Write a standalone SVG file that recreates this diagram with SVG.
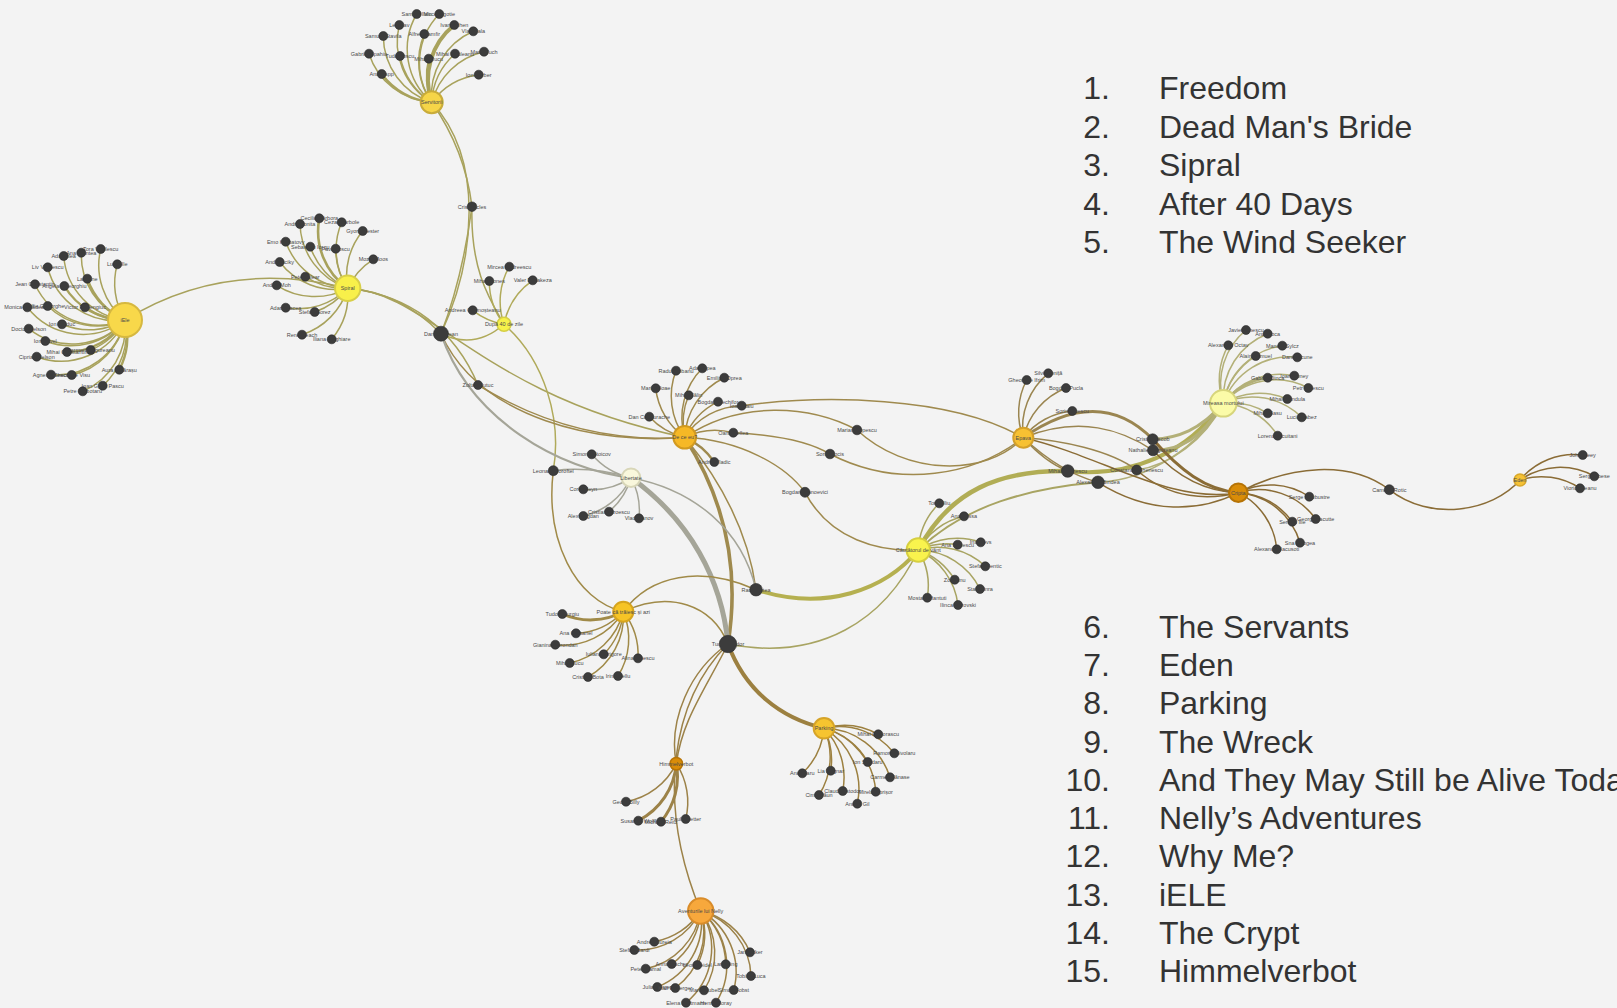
<svg xmlns="http://www.w3.org/2000/svg" width="1617" height="1008" viewBox="0 0 1617 1008">
<style>
.e{fill:none;stroke-linecap:round;stroke-width:1.5}
.ol{stroke:#a8a25c}.yl{stroke:#b0aa5a}.bm{stroke:#9f8a4e}.gr{stroke:#a5a598}.pd{stroke:#a08a48}
.pk{stroke:#9c8040}.nl{stroke:#9c8248}.ws{stroke:#a8a462}.mm{stroke:#b3b078}.ep{stroke:#9a8550}.cr{stroke:#8a6c36}
.t{fill:#4a4a4a;font-family:"Liberation Sans",Arial,sans-serif;font-size:5.5px;text-anchor:middle;dominant-baseline:central}
.lf{fill:#3c3c3c;stroke:#2c2c2c;stroke-width:.6}
.lg{fill:#333;font-family:"Liberation Sans",Arial,sans-serif;font-size:32px}
.num{text-anchor:end}
</style>
<rect width="1617" height="1008" fill="#f3f3f3"/>
<g id="connectors">
<g class="e ol">
<path d="M125,320A70,70 0 0 1 100.7,249"/><path d="M125,320A70,70 0 0 1 81.3,252.7"/><path d="M125,320A70,70 0 0 1 63.7,256"/>
<path d="M125,320A70,70 0 0 1 117.3,264.3"/><path d="M125,320A70,70 0 0 1 47.7,267.3"/><path d="M125,320A70,70 0 0 1 87.3,278.7" stroke-width="2.4"/>
<path d="M125,320A70,70 0 0 1 35,284.3"/><path d="M125,320A70,70 0 0 1 64.3,286" stroke-width="2.4"/><path d="M125,320A70,70 0 0 1 27.3,307.3"/>
<path d="M125,320A70,70 0 0 1 47.7,306"/><path d="M125,320A70,70 0 0 1 85,307.3" stroke-width="2.4"/><path d="M125,320A70,70 0 0 1 62,324.3"/>
<path d="M125,320A70,70 0 0 1 28.7,328.7"/><path d="M125,320A70,70 0 0 1 45.3,341"/><path d="M125,320A70,70 0 0 1 90.7,350"/>
<path d="M125,320A70,70 0 0 1 67,352" stroke-width="2.4"/><path d="M125,320A70,70 0 0 1 36.7,356.7"/><path d="M125,320A70,70 0 0 1 51,374.7"/>
<path d="M125,320A70,70 0 0 1 71.7,375"/><path d="M125,320A70,70 0 0 1 119.3,369.7" stroke-width="2.4"/><path d="M125,320A70,70 0 0 1 102.7,385.7"/>
<path d="M125,320A70,70 0 0 1 82.7,391.3"/>
<path d="M125,320Q225,258 347.7,288.3"/>
</g>
<g class="e ol">
<path d="M347.7,288.3A70,70 0 0 1 300,224"/><path d="M347.7,288.3A70,70 0 0 1 319.3,218.3" stroke-width="2.6"/><path d="M347.7,288.3A70,70 0 0 1 341.7,222.3"/>
<path d="M347.7,288.3A70,70 0 0 1 362.7,231"/><path d="M347.7,288.3A70,70 0 0 1 285.7,241.7"/><path d="M347.7,288.3A70,70 0 0 1 310.3,246.7"/>
<path d="M347.7,288.3A70,70 0 0 1 335.7,248.7"/><path d="M347.7,288.3A70,70 0 0 1 373.3,259.3"/><path d="M347.7,288.3A70,70 0 0 1 279.7,262"/>
<path d="M347.7,288.3A70,70 0 0 1 305.3,276.7"/><path d="M347.7,288.3A70,70 0 0 1 276.7,285.3"/><path d="M347.7,288.3A70,70 0 0 1 285.7,307.7"/>
<path d="M347.7,288.3A70,70 0 0 1 314.7,312"/><path d="M347.7,288.3A70,70 0 0 1 302,334.7"/><path d="M347.7,288.3A70,70 0 0 1 331.7,339.3"/>
<path d="M347.7,288.3Q400,292 441,333.7"/><path d="M347.7,288.3C410,295 455,330 478,385"/><path d="M347.7,288.3C430,292 480,395 684.7,437.3"/>
</g>
<g class="e ol">
<path d="M431.7,102.3A70,70 0 0 1 416.7,14"/><path d="M431.7,102.3A70,70 0 0 1 439.3,14"/><path d="M431.7,102.3A70,70 0 0 1 399.3,25"/>
<path d="M431.7,102.3A70,70 0 0 1 454.3,25" stroke-width="4"/><path d="M431.7,102.3A70,70 0 0 1 473.3,31.3"/><path d="M431.7,102.3A70,70 0 0 1 383.3,36"/>
<path d="M431.7,102.3A70,70 0 0 1 424.3,34"/><path d="M431.7,102.3A70,70 0 0 1 369,53.7"/><path d="M431.7,102.3A70,70 0 0 1 400,56"/>
<path d="M431.7,102.3A70,70 0 0 1 428.7,58.7"/><path d="M431.7,102.3A70,70 0 0 1 455,53.7"/><path d="M431.7,102.3A70,70 0 0 1 484,51.7"/>
<path d="M431.7,102.3A70,70 0 0 1 381.7,74" stroke-width="2.4"/><path d="M431.7,102.3A70,70 0 0 1 478.7,74.7"/>
<path d="M431.7,102.3Q465,150 472,206.7"/><path d="M431.7,102.3C485,160 475,260 441,333.7"/>
<path d="M472,206.7Q462,280 441,333.7"/><path d="M472,206.7C470,270 490,300 504,324.3"/>
</g>
<g class="e yl">
<path d="M504,324.3A70,70 0 0 1 509.3,266.7"/><path d="M504,324.3A70,70 0 0 1 489.3,281"/><path d="M504,324.3A70,70 0 0 1 532.7,280.3"/>
<path d="M504,324.3A70,70 0 0 1 472.7,310.3"/>
<path d="M441,333.7Q475,350 504,324.3"/>
<path d="M504,324.3C545,360 562,420 553.3,470.7"/>
</g>
<g class="e bm">
<path d="M684.7,437.3A70,70 0 0 1 676,370.7"/><path d="M684.7,437.3A70,70 0 0 1 702.3,368.3"/><path d="M684.7,437.3A70,70 0 0 1 724.3,377.7"/>
<path d="M684.7,437.3A70,70 0 0 1 655.7,388.3"/><path d="M684.7,437.3A70,70 0 0 1 688.7,395.3"/><path d="M684.7,437.3A70,70 0 0 1 718,401.7"/>
<path d="M684.7,437.3A70,70 0 0 1 741.7,405.7"/><path d="M684.7,437.3A70,70 0 0 1 649.3,416.7"/><path d="M684.7,437.3A70,70 0 0 1 733.3,432.7"/>
<path d="M684.7,437.3A70,70 0 0 1 714.3,462" stroke-width="2.4"/>
<path d="M478,385Q575,445 684.7,437.3"/>
<path d="M441,333.7C480,420 600,445 684.7,437.3"/>
<path d="M684.7,437.3C725,500 740,570 728,644" stroke-width="3.6"/>
<path d="M684.7,437.3C720,480 748,530 756,589.7"/>
<path d="M684.7,437.3C740,440 785,465 805,492.3"/>
<path d="M733.3,432.7C780,435 810,442 830,454"/>
<path d="M684.7,437.3C740,400 810,405 857,430"/>
<path d="M741.7,405.7C820,395 950,395 1023.3,437.7"/>
<path d="M830,454C900,490 975,475 1023.3,437.7"/>
<path d="M857,430C905,475 985,478 1023.3,437.7"/>
<path d="M805,492.3C830,540 880,552 918.3,550"/>
</g>
<g class="e gr">
<path d="M631,477.7A70,70 0 0 1 591.7,454.3"/><path d="M631,477.7A70,70 0 0 1 583.3,489.3"/><path d="M631,477.7A70,70 0 0 1 609,511.7"/>
<path d="M631,477.7A70,70 0 0 1 583.3,516"/><path d="M631,477.7A70,70 0 0 1 639,518.3"/>
<path d="M441,333.7C470,420 560,470 631,477.7" stroke-width="2.2"/>
<path d="M553.3,470.7Q590,466 631,477.7"/>
<path d="M631,477.7C690,520 722,580 728,644" stroke-width="5"/>
<path d="M631,477.7C695,490 742,530 756,589.7"/>
</g>
<g class="e pd">
<path d="M623.3,611.7A70,70 0 0 1 562.3,614" stroke-width="3"/><path d="M623.3,611.7A70,70 0 0 1 576,633.3"/><path d="M623.3,611.7A70,70 0 0 1 555.3,644.7"/>
<path d="M623.3,611.7A70,70 0 0 1 603.7,654.3"/><path d="M623.3,611.7A70,70 0 0 1 638,658.3"/><path d="M623.3,611.7A70,70 0 0 1 569.7,663"/>
<path d="M623.3,611.7A70,70 0 0 1 588,677"/><path d="M623.3,611.7A70,70 0 0 1 618,676"/>
<path d="M553.3,470.7C545,540 575,600 623.3,611.7"/>
<path d="M756,589.7C700,565 650,575 623.3,611.7"/>
<path d="M623.3,611.7C670,590 712,605 728,644"/>
</g>
<g class="e ws">
<path d="M918.3,550A70,70 0 0 1 939.3,503.3"/><path d="M918.3,550A70,70 0 0 1 964,516.3"/><path d="M918.3,550A70,70 0 0 1 957.7,544.7"/>
<path d="M918.3,550A70,70 0 0 1 980.7,542.3"/><path d="M918.3,550A70,70 0 0 1 985.3,566.3"/><path d="M918.3,550A70,70 0 0 1 954.7,579.7"/>
<path d="M918.3,550A70,70 0 0 1 980,589"/><path d="M918.3,550A70,70 0 0 1 927.3,597.7"/><path d="M918.3,550A70,70 0 0 1 958,605"/>
<path d="M756,589.7C825,612 885,590 918.3,550" stroke-width="4" stroke="#b5b050"/>
<path d="M728,644C820,662 885,620 918.3,550"/>
<path d="M918.3,550C950,490 1000,470 1067.7,471" stroke-width="4.5" stroke="#b1ad55"/>
<path d="M1067.7,471C1130,478 1190,452 1221,403.7" stroke-width="4" stroke="#b1ad55"/>
<path d="M918.3,550C965,505 1030,488 1098,482.3" stroke-width="2"/>
</g>
<g class="e mm">
<path d="M1223.3,403.3A70,70 0 0 1 1246,330"/><path d="M1223.3,403.3A70,70 0 0 1 1267.7,333.7"/><path d="M1223.3,403.3A70,70 0 0 1 1228.3,345.3"/>
<path d="M1223.3,403.3A70,70 0 0 1 1282.3,345.7"/><path d="M1223.3,403.3A70,70 0 0 1 1255.7,356"/><path d="M1223.3,403.3A70,70 0 0 1 1297.3,357.3"/>
<path d="M1223.3,403.3A70,70 0 0 1 1267.7,377.7" stroke-width="2.6"/><path d="M1223.3,403.3A70,70 0 0 1 1294.3,375.7"/><path d="M1223.3,403.3A70,70 0 0 1 1308.3,388"/>
<path d="M1223.3,403.3A70,70 0 0 1 1287.3,399"/><path d="M1223.3,403.3A70,70 0 0 1 1267.7,413.3"/><path d="M1223.3,403.3A70,70 0 0 1 1301.7,417.3"/>
<path d="M1223.3,403.3A70,70 0 0 1 1277.7,435.7"/>
<path d="M1223.3,403.3C1200,430 1178,438 1152.7,439.3" stroke-width="3"/>
<path d="M1223.3,403.3C1200,440 1180,450 1153,450.3" stroke-width="3"/>
<path d="M1098,482.3C1150,480 1200,445 1223.3,403.3"/>
<path d="M1136.7,470C1170,465 1205,440 1223.3,403.3"/>
</g>
<g class="e ep">
<path d="M1023.3,437.7A70,70 0 0 1 1048.3,373.3"/><path d="M1023.3,437.7A70,70 0 0 1 1026.7,380"/><path d="M1023.3,437.7A70,70 0 0 1 1066,388"/>
<path d="M1023.3,437.7A70,70 0 0 1 1072.3,411"/>
<path d="M1023.3,437.7C1080,398 1122,408 1152.7,439.3" stroke-width="3"/>
<path d="M1023.3,437.7C1080,415 1122,430 1153,450.3"/>
<path d="M1023.3,437.7Q1045,462 1067.7,471"/>
<path d="M1023.3,437.7Q1060,472 1098,482.3"/>
<path d="M1023.3,437.7C1060,440 1110,450 1136.7,470"/>
</g>
<g class="e cr">
<path d="M1238.3,492.7A70,70 0 0 1 1309.3,496.7"/><path d="M1238.3,492.7A70,70 0 0 1 1315.7,519"/><path d="M1238.3,492.7A70,70 0 0 1 1292.3,521.7"/>
<path d="M1238.3,492.7A70,70 0 0 1 1300,542.7"/><path d="M1238.3,492.7A70,70 0 0 1 1276.7,549.3"/>
<path d="M1152.7,439.3C1180,470 1205,490 1238.3,492.7" stroke-width="3"/>
<path d="M1153,450.3C1180,480 1210,492 1238.3,492.7"/>
<path d="M1136.7,470C1170,500 1210,500 1238.3,492.7"/>
<path d="M1098,482.3C1150,515 1200,512 1238.3,492.7"/>
<path d="M1023.3,437.7C1100,455 1170,505 1238.3,492.7"/>
<path d="M1238.3,492.7C1290,465 1350,460 1389.3,489.7"/>
<path d="M1389.3,489.7C1430,522 1492,512 1520,480"/>
<path d="M1520,480A70,70 0 0 1 1582.7,455"/><path d="M1520,480A70,70 0 0 1 1594.3,476.3"/><path d="M1520,480A70,70 0 0 1 1580,488.3"/>
</g>
<g class="e pk">
<path d="M824,728.3A70,70 0 0 1 878.3,734.3"/><path d="M824,728.3A70,70 0 0 1 894.3,753.3"/><path d="M824,728.3A70,70 0 0 1 802.3,773.3"/>
<path d="M824,728.3A70,70 0 0 1 830.7,770.7"/><path d="M824,728.3A70,70 0 0 1 867.7,762"/><path d="M824,728.3A70,70 0 0 1 890,777.3"/>
<path d="M824,728.3A70,70 0 0 1 842.7,791"/><path d="M824,728.3A70,70 0 0 1 875.7,791.7"/><path d="M824,728.3A70,70 0 0 1 819,795"/>
<path d="M824,728.3A70,70 0 0 1 857.3,803.7"/>
<path d="M728,644C745,690 780,718 824,728.3" stroke-width="4"/>
</g>
<g class="e nl">
<path d="M676.3,763.7A70,70 0 0 1 626,801.7"/><path d="M676.3,763.7A70,70 0 0 1 638.3,820.7" stroke-width="3"/><path d="M676.3,763.7A70,70 0 0 1 661,821.7" stroke-width="3"/>
<path d="M676.3,763.7A70,70 0 0 1 685.7,819"/>
<path d="M728,644C705,690 682,720 676.3,763.7"/>
<path d="M728,644C690,670 668,720 676.3,763.7"/>
<path d="M728,644C672,700 655,800 700.7,911"/>
<path d="M700.7,911A70,70 0 0 1 654.3,941.7"/><path d="M700.7,911A70,70 0 0 1 634.3,950"/><path d="M700.7,911A70,70 0 0 1 750,952.3"/>
<path d="M700.7,911A70,70 0 0 1 645.7,968.7"/><path d="M700.7,911A70,70 0 0 1 671.7,964"/><path d="M700.7,911A70,70 0 0 1 697.3,965"/>
<path d="M700.7,911A70,70 0 0 1 725.7,964.3"/><path d="M700.7,911A70,70 0 0 1 751,976"/><path d="M700.7,911A70,70 0 0 1 657.3,987"/>
<path d="M700.7,911A70,70 0 0 1 675.3,988"/><path d="M700.7,911A70,70 0 0 1 704,990.3"/><path d="M700.7,911A70,70 0 0 1 733.7,990"/>
<path d="M700.7,911A70,70 0 0 1 686,1002.7"/><path d="M700.7,911A70,70 0 0 1 716,1002.7"/>
</g>
</g>
<g id="nodes">
<g id="leaves">
<g id="n-iele-leaves">
<text class="t" x="100.7" y="249">Tora Vasilescu</text><circle class="lf" cx="100.7" cy="249" r="4.5"/>
<text class="t" x="81.3" y="252.7">Ana Ciontea</text><circle class="lf" cx="81.3" cy="252.7" r="4.5"/>
<text class="t" x="63.7" y="256">Ada Milea</text><circle class="lf" cx="63.7" cy="256" r="4.5"/>
<text class="t" x="117.3" y="264.3">Lucia Ile</text><circle class="lf" cx="117.3" cy="264.3" r="4.5"/>
<text class="t" x="47.7" y="267.3">Liv Vasilescu</text><circle class="lf" cx="47.7" cy="267.3" r="4.5"/>
<text class="t" x="87.3" y="278.7">Lari Ene</text><circle class="lf" cx="87.3" cy="278.7" r="4.5"/>
<text class="t" x="35" y="284.3">Jean Constantin</text><circle class="lf" cx="35" cy="284.3" r="4.5"/>
<text class="t" x="64.3" y="286">Angela Gheorghiu</text><circle class="lf" cx="64.3" cy="286" r="4.5"/>
<text class="t" x="27.3" y="307.3">Monica Bîrlădeanu</text><circle class="lf" cx="27.3" cy="307.3" r="4.5"/>
<text class="t" x="47.7" y="306">Ilie Gheorghe</text><circle class="lf" cx="47.7" cy="306" r="4.5"/>
<text class="t" x="85" y="307.3">Victor Rebengiuc</text><circle class="lf" cx="85" cy="307.3" r="4.5"/>
<text class="t" x="62" y="324.3">Ion Haiduc</text><circle class="lf" cx="62" cy="324.3" r="4.5"/>
<text class="t" x="28.7" y="328.7">Doctor Nelson</text><circle class="lf" cx="28.7" cy="328.7" r="4.5"/>
<text class="t" x="45.3" y="341">Ion Pavel</text><circle class="lf" cx="45.3" cy="341" r="4.5"/>
<text class="t" x="90.7" y="350">Carmen Ungureanu</text><circle class="lf" cx="90.7" cy="350" r="4.5"/>
<text class="t" x="67" y="352">Mihai Constantin</text><circle class="lf" cx="67" cy="352" r="4.5"/>
<text class="t" x="36.7" y="356.7">Ciprian Nelson</text><circle class="lf" cx="36.7" cy="356.7" r="4.5"/>
<text class="t" x="51" y="374.7">Agnes Ionescu</text><circle class="lf" cx="51" cy="374.7" r="4.5"/>
<text class="t" x="71.7" y="375">Gheorghe Visu</text><circle class="lf" cx="71.7" cy="375" r="4.5"/>
<text class="t" x="119.3" y="369.7">Aura Călărașu</text><circle class="lf" cx="119.3" cy="369.7" r="4.5"/>
<text class="t" x="102.7" y="385.7">Ioan Gyuri Pascu</text><circle class="lf" cx="102.7" cy="385.7" r="4.5"/>
<text class="t" x="82.7" y="391.3">Petre Ciubotaru</text><circle class="lf" cx="82.7" cy="391.3" r="4.5"/>
</g>
<g id="n-spiral-leaves">
<text class="t" x="300" y="224">Andrei Ionita</text><circle class="lf" cx="300" cy="224" r="4.5"/>
<text class="t" x="319.3" y="218.3">Cecilia Bârbora</text><circle class="lf" cx="319.3" cy="218.3" r="4.5"/>
<text class="t" x="341.7" y="222.3">Cezar Barbole</text><circle class="lf" cx="341.7" cy="222.3" r="4.5"/>
<text class="t" x="362.7" y="231">Gyorgy Iester</text><circle class="lf" cx="362.7" cy="231" r="4.5"/>
<text class="t" x="285.7" y="241.7">Emo Korbatovy</text><circle class="lf" cx="285.7" cy="241.7" r="4.5"/>
<text class="t" x="310.3" y="246.7">Sebastian Iorgu</text><circle class="lf" cx="310.3" cy="246.7" r="4.5"/>
<text class="t" x="335.7" y="248.7">Pavel Ioscu</text><circle class="lf" cx="335.7" cy="248.7" r="4.5"/>
<text class="t" x="373.3" y="259.3">Mozzi Moos</text><circle class="lf" cx="373.3" cy="259.3" r="4.5"/>
<text class="t" x="279.7" y="262">Andi Baciky</text><circle class="lf" cx="279.7" cy="262" r="4.5"/>
<text class="t" x="305.3" y="276.7">Pete Palear</text><circle class="lf" cx="305.3" cy="276.7" r="4.5"/>
<text class="t" x="276.7" y="285.3">Andrei Moh</text><circle class="lf" cx="276.7" cy="285.3" r="4.5"/>
<text class="t" x="285.7" y="307.7">Adam Pacea</text><circle class="lf" cx="285.7" cy="307.7" r="4.5"/>
<text class="t" x="314.7" y="312">Stefan Sorez</text><circle class="lf" cx="314.7" cy="312" r="4.5"/>
<text class="t" x="302" y="334.7">Rene Neach</text><circle class="lf" cx="302" cy="334.7" r="4.5"/>
<text class="t" x="331.7" y="339.3">Iliana Maghiare</text><circle class="lf" cx="331.7" cy="339.3" r="4.5"/>
</g>
<g id="n-servants-leaves">
<text class="t" x="416.7" y="14">Samuel Ilaiu</text><circle class="lf" cx="416.7" cy="14" r="4.5"/>
<text class="t" x="439.3" y="14">Mircea Igotie</text><circle class="lf" cx="439.3" cy="14" r="4.5"/>
<text class="t" x="399.3" y="25">Leo Sav</text><circle class="lf" cx="399.3" cy="25" r="4.5"/>
<text class="t" x="454.3" y="25">Ivan Cohen</text><circle class="lf" cx="454.3" cy="25" r="4.5"/>
<text class="t" x="473.3" y="31.3">Vlad Pala</text><circle class="lf" cx="473.3" cy="31.3" r="4.5"/>
<text class="t" x="383.3" y="36">Samuel Stavila</text><circle class="lf" cx="383.3" cy="36" r="4.5"/>
<text class="t" x="424.3" y="34">Alfred Zamfir</text><circle class="lf" cx="424.3" cy="34" r="4.5"/>
<text class="t" x="369" y="53.7">Gabriel Spahiu</text><circle class="lf" cx="369" cy="53.7" r="4.5"/>
<text class="t" x="400" y="56">Tudor Ioscu</text><circle class="lf" cx="400" cy="56" r="4.5"/>
<text class="t" x="428.7" y="58.7">Mihail Rucu</text><circle class="lf" cx="428.7" cy="58.7" r="4.5"/>
<text class="t" x="455" y="53.7">Mihai Pauleanu</text><circle class="lf" cx="455" cy="53.7" r="4.5"/>
<text class="t" x="484" y="51.7">Marin Tuch</text><circle class="lf" cx="484" cy="51.7" r="4.5"/>
<text class="t" x="381.7" y="74">Ana Papp</text><circle class="lf" cx="381.7" cy="74" r="4.5"/>
<text class="t" x="478.7" y="74.7">Ion Sarber</text><circle class="lf" cx="478.7" cy="74.7" r="4.5"/>
</g>
<g id="n-40-leaves">
<text class="t" x="509.3" y="266.7">Mircea Andreescu</text><circle class="lf" cx="509.3" cy="266.7" r="4.5"/>
<text class="t" x="489.3" y="281">Mihai Mones</text><circle class="lf" cx="489.3" cy="281" r="4.5"/>
<text class="t" x="532.7" y="280.3">Valer Dellakeza</text><circle class="lf" cx="532.7" cy="280.3" r="4.5"/>
<text class="t" x="472.7" y="310.3">Andreea Grămoșteanu</text><circle class="lf" cx="472.7" cy="310.3" r="4.5"/>
</g>
<g id="n-shared">
<text class="t" x="472" y="206.7">Cristi Iacles</text><circle class="lf" cx="472" cy="206.7" r="4.8"/>
<text class="t" x="441" y="333.7">Dan Chiorean</text><circle class="lf" cx="441" cy="333.7" r="7.5"/>
<text class="t" x="478" y="385">Zoltan Butuc</text><circle class="lf" cx="478" cy="385" r="4.5"/>
<text class="t" x="553.3" y="470.7">Leonard Doroftei</text><circle class="lf" cx="553.3" cy="470.7" r="5"/>
<text class="t" x="756" y="589.7">Radu Botea</text><circle class="lf" cx="756" cy="589.7" r="6.3"/>
<text class="t" x="728" y="644">Tudor Istodor</text><circle class="lf" cx="728" cy="644" r="8.7"/>
<text class="t" x="830" y="454">Sorin Cocis</text><circle class="lf" cx="830" cy="454" r="4.8"/>
<text class="t" x="857" y="430">Marian Popescu</text><circle class="lf" cx="857" cy="430" r="4.8"/>
<text class="t" x="805" y="492.3">Bogdan Stanoevici</text><circle class="lf" cx="805" cy="492.3" r="5"/>
<text class="t" x="1067.7" y="471">Mihai Călinescu</text><circle class="lf" cx="1067.7" cy="471" r="6.3"/>
<text class="t" x="1098" y="482.3">Alexandru Bindea</text><circle class="lf" cx="1098" cy="482.3" r="6.3"/>
<text class="t" x="1152.7" y="439.3">Cristian Iacob</text><circle class="lf" cx="1152.7" cy="439.3" r="5.5"/>
<text class="t" x="1153" y="450.3">Nathalie Ungureanu</text><circle class="lf" cx="1153" cy="450.3" r="5.5"/>
<text class="t" x="1136.7" y="470">Constantin Ghenescu</text><circle class="lf" cx="1136.7" cy="470" r="5"/>
<text class="t" x="1389.3" y="489.7">Camelia Rotic</text><circle class="lf" cx="1389.3" cy="489.7" r="5"/>
</g>
<g id="n-dece-leaves">
<text class="t" x="676" y="370.7">Radu Ciobanu</text><circle class="lf" cx="676" cy="370.7" r="4.5"/>
<text class="t" x="702.3" y="368.3">Ada Lupea</text><circle class="lf" cx="702.3" cy="368.3" r="4.5"/>
<text class="t" x="724.3" y="377.7">Emilian Oprea</text><circle class="lf" cx="724.3" cy="377.7" r="4.5"/>
<text class="t" x="655.7" y="388.3">Maria Ploae</text><circle class="lf" cx="655.7" cy="388.3" r="4.5"/>
<text class="t" x="688.7" y="395.3">Mihai Călin</text><circle class="lf" cx="688.7" cy="395.3" r="4.5"/>
<text class="t" x="718" y="401.7">Bogdan Nechifor</text><circle class="lf" cx="718" cy="401.7" r="4.5"/>
<text class="t" x="741.7" y="405.7">Ioan Isaiu</text><circle class="lf" cx="741.7" cy="405.7" r="4.5"/>
<text class="t" x="649.3" y="416.7">Dan Condurache</text><circle class="lf" cx="649.3" cy="416.7" r="4.5"/>
<text class="t" x="733.3" y="432.7">Oana Pellea</text><circle class="lf" cx="733.3" cy="432.7" r="4.5"/>
<text class="t" x="714.3" y="462">Andrei Vladic</text><circle class="lf" cx="714.3" cy="462" r="4.5"/>
</g>
<g id="n-lib-leaves">
<text class="t" x="591.7" y="454.3">Simona Stoicov</text><circle class="lf" cx="591.7" cy="454.3" r="4.5"/>
<text class="t" x="583.3" y="489.3">Corin Heyn</text><circle class="lf" cx="583.3" cy="489.3" r="4.5"/>
<text class="t" x="609" y="511.7">Cristian Stroescu</text><circle class="lf" cx="609" cy="511.7" r="4.5"/>
<text class="t" x="583.3" y="516">Alex Bogdan</text><circle class="lf" cx="583.3" cy="516" r="4.5"/>
<text class="t" x="639" y="518.3">Vlad Ivanov</text><circle class="lf" cx="639" cy="518.3" r="4.5"/>
</g>
<g id="n-pod-leaves">
<text class="t" x="562.3" y="614">Tudor Giurgiu</text><circle class="lf" cx="562.3" cy="614" r="4.5"/>
<text class="t" x="576" y="633.3">Ana Ciobanel</text><circle class="lf" cx="576" cy="633.3" r="4.5"/>
<text class="t" x="555.3" y="644.7">Gianina Corondan</text><circle class="lf" cx="555.3" cy="644.7" r="4.5"/>
<text class="t" x="603.7" y="654.3">Iuliana Grigore</text><circle class="lf" cx="603.7" cy="654.3" r="4.5"/>
<text class="t" x="638" y="658.3">Alina Ionescu</text><circle class="lf" cx="638" cy="658.3" r="4.5"/>
<text class="t" x="569.7" y="663">Mihai Cucu</text><circle class="lf" cx="569.7" cy="663" r="4.5"/>
<text class="t" x="588" y="677">Cristian Bota</text><circle class="lf" cx="588" cy="677" r="4.5"/>
<text class="t" x="618" y="676">Irina Bellu</text><circle class="lf" cx="618" cy="676" r="4.5"/>
</g>
<g id="n-park-leaves">
<text class="t" x="878.3" y="734.3">Mihai Gheorascu</text><circle class="lf" cx="878.3" cy="734.3" r="4.5"/>
<text class="t" x="894.3" y="753.3">Ramona Bivolaru</text><circle class="lf" cx="894.3" cy="753.3" r="4.5"/>
<text class="t" x="802.3" y="773.3">Ana Ularu</text><circle class="lf" cx="802.3" cy="773.3" r="4.5"/>
<text class="t" x="830.7" y="770.7">Lia Bugnar</text><circle class="lf" cx="830.7" cy="770.7" r="4.5"/>
<text class="t" x="867.7" y="762">Ion Sapdaru</text><circle class="lf" cx="867.7" cy="762" r="4.5"/>
<text class="t" x="890" y="777.3">Carmen Tănase</text><circle class="lf" cx="890" cy="777.3" r="4.5"/>
<text class="t" x="842.7" y="791">Claudiu Istodor</text><circle class="lf" cx="842.7" cy="791" r="4.5"/>
<text class="t" x="875.7" y="791.7">Mirela Oprișor</text><circle class="lf" cx="875.7" cy="791.7" r="4.5"/>
<text class="t" x="819" y="795">Cima Păun</text><circle class="lf" cx="819" cy="795" r="4.5"/>
<text class="t" x="857.3" y="803.7">Andrei Gil</text><circle class="lf" cx="857.3" cy="803.7" r="4.5"/>
</g>
<g id="n-him-leaves">
<text class="t" x="626" y="801.7">Georg Billy</text><circle class="lf" cx="626" cy="801.7" r="4.5"/>
<text class="t" x="638.3" y="820.7">Susanne Wolff</text><circle class="lf" cx="638.3" cy="820.7" r="4.5"/>
<text class="t" x="661" y="821.7">Michael Reitz</text><circle class="lf" cx="661" cy="821.7" r="4.5"/>
<text class="t" x="685.7" y="819">Paul Zwetter</text><circle class="lf" cx="685.7" cy="819" r="4.5"/>
</g>
<g id="n-nelly-leaves">
<text class="t" x="654.3" y="941.7">Andrei Ciureia</text><circle class="lf" cx="654.3" cy="941.7" r="4.5"/>
<text class="t" x="634.3" y="950">Stefan Bardi</text><circle class="lf" cx="634.3" cy="950" r="4.5"/>
<text class="t" x="750" y="952.3">Jana Icker</text><circle class="lf" cx="750" cy="952.3" r="4.5"/>
<text class="t" x="645.7" y="968.7">Peter Hamal</text><circle class="lf" cx="645.7" cy="968.7" r="4.5"/>
<text class="t" x="671.7" y="964">Anna Fischer</text><circle class="lf" cx="671.7" cy="964" r="4.5"/>
<text class="t" x="697.3" y="965">Leon Seidel</text><circle class="lf" cx="697.3" cy="965" r="4.5"/>
<text class="t" x="725.7" y="964.3">Lars Ring</text><circle class="lf" cx="725.7" cy="964.3" r="4.5"/>
<text class="t" x="751" y="976">Tobias Luca</text><circle class="lf" cx="751" cy="976" r="4.5"/>
<text class="t" x="657.3" y="987">Julia Berger</text><circle class="lf" cx="657.3" cy="987" r="4.5"/>
<text class="t" x="675.3" y="988">Karl Enberger</text><circle class="lf" cx="675.3" cy="988" r="4.5"/>
<text class="t" x="704" y="990.3">Maria Kubel</text><circle class="lf" cx="704" cy="990.3" r="4.5"/>
<text class="t" x="733.7" y="990">Simon Fobst</text><circle class="lf" cx="733.7" cy="990" r="4.5"/>
<text class="t" x="686" y="1002.7">Elena Hartmann</text><circle class="lf" cx="686" cy="1002.7" r="4.5"/>
<text class="t" x="716" y="1002.7">Henry Moray</text><circle class="lf" cx="716" cy="1002.7" r="4.5"/>
</g>
<g id="n-epava-leaves">
<text class="t" x="1048.3" y="373.3">Silvia Ioniță</text><circle class="lf" cx="1048.3" cy="373.3" r="4.5"/>
<text class="t" x="1026.7" y="380">Gheorghe Ifrim</text><circle class="lf" cx="1026.7" cy="380" r="4.5"/>
<text class="t" x="1066" y="388">Bogdan Pucla</text><circle class="lf" cx="1066" cy="388" r="4.5"/>
<text class="t" x="1072.3" y="411">Sorin Ionescu</text><circle class="lf" cx="1072.3" cy="411" r="4.5"/>
</g>
<g id="n-mm-leaves">
<text class="t" x="1246" y="330">Javier Ionescu</text><circle class="lf" cx="1246" cy="330" r="4.5"/>
<text class="t" x="1267.7" y="333.7">Ana Idoca</text><circle class="lf" cx="1267.7" cy="333.7" r="4.5"/>
<text class="t" x="1228.3" y="345.3">Alexandru Octav</text><circle class="lf" cx="1228.3" cy="345.3" r="4.5"/>
<text class="t" x="1282.3" y="345.7">Manuel Sylcz</text><circle class="lf" cx="1282.3" cy="345.7" r="4.5"/>
<text class="t" x="1255.7" y="356">Alain Samuel</text><circle class="lf" cx="1255.7" cy="356" r="4.5"/>
<text class="t" x="1297.3" y="357.3">Daniel Icune</text><circle class="lf" cx="1297.3" cy="357.3" r="4.5"/>
<text class="t" x="1267.7" y="377.7">Gabriel Dinca</text><circle class="lf" cx="1267.7" cy="377.7" r="4.5"/>
<text class="t" x="1294.3" y="375.7">Ioan Honey</text><circle class="lf" cx="1294.3" cy="375.7" r="4.5"/>
<text class="t" x="1308.3" y="388">Petr Ionescu</text><circle class="lf" cx="1308.3" cy="388" r="4.5"/>
<text class="t" x="1287.3" y="399">Mihai Mandula</text><circle class="lf" cx="1287.3" cy="399" r="4.5"/>
<text class="t" x="1267.7" y="413.3">Mihail Basu</text><circle class="lf" cx="1267.7" cy="413.3" r="4.5"/>
<text class="t" x="1301.7" y="417.3">Lucia Irabez</text><circle class="lf" cx="1301.7" cy="417.3" r="4.5"/>
<text class="t" x="1277.7" y="435.7">Lorena Nicuitani</text><circle class="lf" cx="1277.7" cy="435.7" r="4.5"/>
</g>
<g id="n-crypt-leaves">
<text class="t" x="1309.3" y="496.7">Serge Soubustre</text><circle class="lf" cx="1309.3" cy="496.7" r="4.5"/>
<text class="t" x="1315.7" y="519">Georgi Gacutte</text><circle class="lf" cx="1315.7" cy="519" r="4.5"/>
<text class="t" x="1292.3" y="521.7">Serban Ilie</text><circle class="lf" cx="1292.3" cy="521.7" r="4.5"/>
<text class="t" x="1300" y="542.7">Sna Boogea</text><circle class="lf" cx="1300" cy="542.7" r="4.5"/>
<text class="t" x="1276.7" y="549.3">Alexandru Iacusoti</text><circle class="lf" cx="1276.7" cy="549.3" r="4.5"/>
</g>
<g id="n-eden-leaves">
<text class="t" x="1582.7" y="455">John Ceey</text><circle class="lf" cx="1582.7" cy="455" r="4.5"/>
<text class="t" x="1594.3" y="476.3">Sergiu Ibese</text><circle class="lf" cx="1594.3" cy="476.3" r="4.5"/>
<text class="t" x="1580" y="488.3">Viorica Ileanu</text><circle class="lf" cx="1580" cy="488.3" r="4.5"/>
</g>
<g id="n-ws-leaves">
<text class="t" x="939.3" y="503.3">Toma Iliu</text><circle class="lf" cx="939.3" cy="503.3" r="4.5"/>
<text class="t" x="964" y="516.3">Ana Vessa</text><circle class="lf" cx="964" cy="516.3" r="4.5"/>
<text class="t" x="957.7" y="544.7">Ana Popescu</text><circle class="lf" cx="957.7" cy="544.7" r="4.5"/>
<text class="t" x="980.7" y="542.3">Ina Iljevs</text><circle class="lf" cx="980.7" cy="542.3" r="4.5"/>
<text class="t" x="985.3" y="566.3">Stefan Pentic</text><circle class="lf" cx="985.3" cy="566.3" r="4.5"/>
<text class="t" x="954.7" y="579.7">Zoe Ianu</text><circle class="lf" cx="954.7" cy="579.7" r="4.5"/>
<text class="t" x="980" y="589">Stan Pinra</text><circle class="lf" cx="980" cy="589" r="4.5"/>
<text class="t" x="927.3" y="597.7">Mostafa Hantuti</text><circle class="lf" cx="927.3" cy="597.7" r="4.5"/>
<text class="t" x="958" y="605">Ilinca Narovski</text><circle class="lf" cx="958" cy="605" r="4.5"/>
</g>
</g>
<g id="hubs">
<g id="h-iele"><circle cx="125" cy="320" r="17" fill="#f8d84a" stroke="#d6b840" stroke-width="2"/><text class="t" x="125" y="320">iEle</text></g>
<g id="h-spiral"><circle cx="347.7" cy="288.3" r="12.7" fill="#f8f04a" stroke="#d8cf48" stroke-width="2"/><text class="t" x="347.7" y="288.3">Spiral</text></g>
<g id="h-servants"><circle cx="431.7" cy="102.3" r="11" fill="#f6d548" stroke="#c9ac3a" stroke-width="2"/><text class="t" x="431.7" y="102.3">Servitorii</text></g>
<g id="h-40"><circle cx="504" cy="324.3" r="7" fill="#f7f14a" stroke="#d5cf45" stroke-width="1.5"/><text class="t" x="504" y="324.3">După 40 de zile</text></g>
<g id="h-dece"><circle cx="684.7" cy="437.3" r="11.3" fill="#f6b826" stroke="#d29a20" stroke-width="2"/><text class="t" x="684.7" y="437.3">De ce eu?</text></g>
<g id="h-lib"><circle cx="631" cy="477.7" r="9.3" fill="#f9f7dc" stroke="#d8d6b8" stroke-width="2"/><text class="t" x="631" y="477.7">Libertate</text></g>
<g id="h-epava"><circle cx="1023.3" cy="437.7" r="10" fill="#f7c132" stroke="#d4a02a" stroke-width="2"/><text class="t" x="1023.3" y="437.7">Epava</text></g>
<g id="h-mm"><circle cx="1223.3" cy="403.3" r="13.3" fill="#fbfba8" stroke="#d7d57c" stroke-width="2"/><text class="t" x="1223.3" y="403.3">Mireasa mortului</text></g>
<g id="h-crypt"><circle cx="1238.3" cy="492.7" r="9.3" fill="#d98c08" stroke="#b57306" stroke-width="2"/><text class="t" x="1238.3" y="492.7">Cripta</text></g>
<g id="h-eden"><circle cx="1520" cy="480" r="6" fill="#f6c235" stroke="#d9a82a" stroke-width="1.5"/><text class="t" x="1520" y="480">Eden</text></g>
<g id="h-ws"><circle cx="918.3" cy="550" r="11.7" fill="#f9f34d" stroke="#d6cf40" stroke-width="2"/><text class="t" x="918.3" y="550">Căutătorul de vânt</text></g>
<g id="h-pod"><circle cx="623.3" cy="611.7" r="10" fill="#f6c426" stroke="#d6a41e" stroke-width="2"/><text class="t" x="623.3" y="611.7">Poate că trăiesc și azi</text></g>
<g id="h-park"><circle cx="824" cy="728.3" r="10.3" fill="#f6c430" stroke="#d6a428" stroke-width="2"/><text class="t" x="824" y="728.3">Parking</text></g>
<g id="h-him"><circle cx="676.3" cy="763.7" r="6.3" fill="#d98c08" stroke="#b87406" stroke-width="1.5"/><text class="t" x="676.3" y="763.7">Himmelverbot</text></g>
<g id="h-nelly"><circle cx="700.7" cy="911" r="12.7" fill="#f7a83c" stroke="#d98c2a" stroke-width="2"/><text class="t" x="700.7" y="911">Aventurile lui Nelly</text></g>
</g>
</g>
<g id="legend">
<text class="lg num" x="1110" y="99.3">1.</text><text class="lg" x="1159" y="99.3">Freedom</text>
<text class="lg num" x="1110" y="137.8">2.</text><text class="lg" x="1159" y="137.8">Dead Man's Bride</text>
<text class="lg num" x="1110" y="176.3">3.</text><text class="lg" x="1159" y="176.3">Sipral</text>
<text class="lg num" x="1110" y="214.8">4.</text><text class="lg" x="1159" y="214.8">After 40 Days</text>
<text class="lg num" x="1110" y="253.3">5.</text><text class="lg" x="1159" y="253.3">The Wind Seeker</text>
<text class="lg num" x="1110" y="637.6">6.</text><text class="lg" x="1159" y="637.6">The Servants</text>
<text class="lg num" x="1110" y="675.9">7.</text><text class="lg" x="1159" y="675.9">Eden</text>
<text class="lg num" x="1110" y="714.2">8.</text><text class="lg" x="1159" y="714.2">Parking</text>
<text class="lg num" x="1110" y="752.5">9.</text><text class="lg" x="1159" y="752.5">The Wreck</text>
<text class="lg num" x="1110" y="790.8">10.</text><text class="lg" x="1159" y="790.8">And They May Still be Alive Toda</text>
<text class="lg num" x="1110" y="829.1">11.</text><text class="lg" x="1159" y="829.1">Nelly’s Adventures</text>
<text class="lg num" x="1110" y="867.4">12.</text><text class="lg" x="1159" y="867.4">Why Me?</text>
<text class="lg num" x="1110" y="905.7">13.</text><text class="lg" x="1159" y="905.7">iELE</text>
<text class="lg num" x="1110" y="944">14.</text><text class="lg" x="1159" y="944">The Crypt</text>
<text class="lg num" x="1110" y="982.3">15.</text><text class="lg" x="1159" y="982.3">Himmelverbot</text>
</g>
</svg>
